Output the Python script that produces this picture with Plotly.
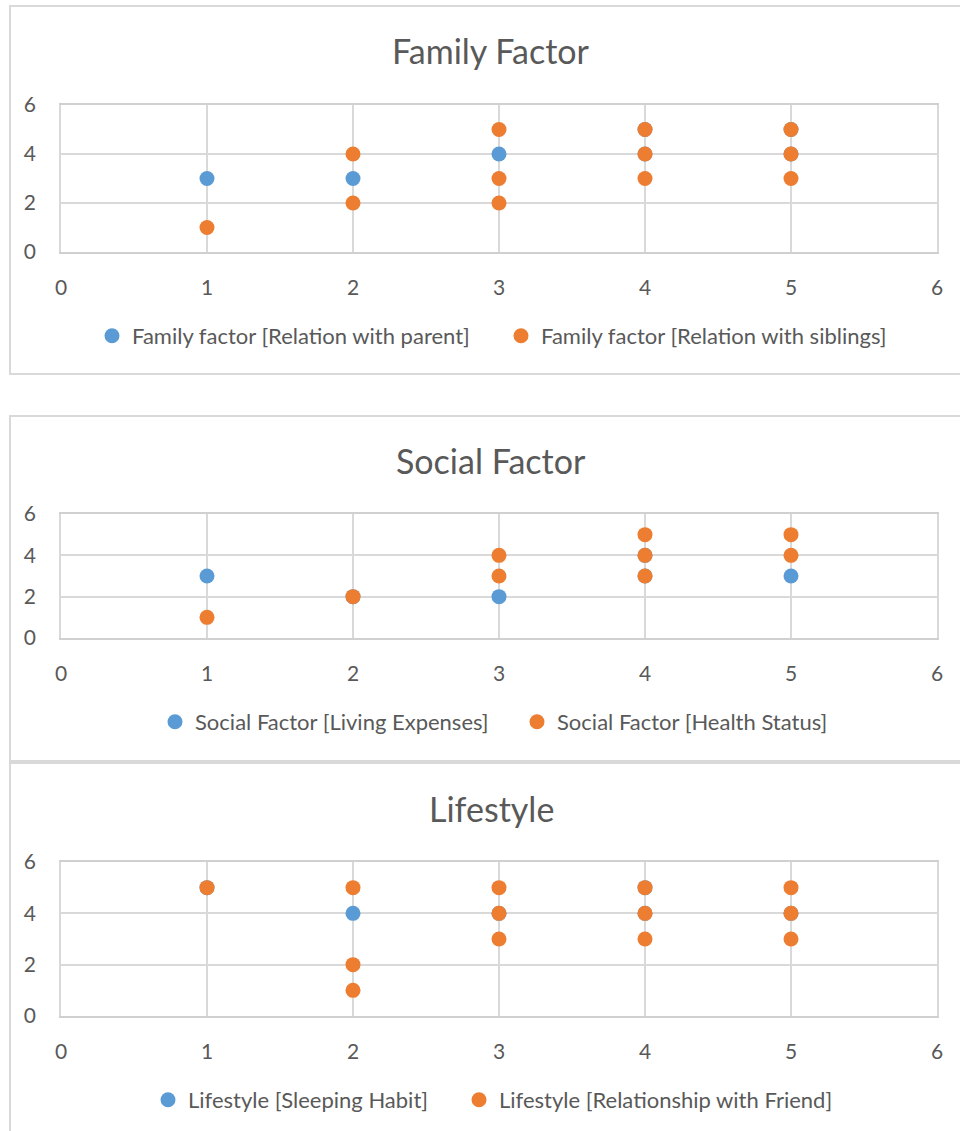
import plotly.graph_objects as go

W, H = 960, 1131
BLUE = "#5B9BD5"
ORANGE = "#ED7D31"
GRID = "#D9D9D9"
TEXT = "#595959"
FONT = "Lato"

titles = ["Family Factor", "Social Factor", "Lifestyle"]

# Family Factor
family_parent_x = [1, 2, 3, 4, 4, 5, 5]
family_parent_y = [3, 3, 4, 4, 5, 4, 5]
family_sibling_x = [1, 2, 2, 3, 3, 3, 4, 4, 4, 5, 5, 5]
family_sibling_y = [1, 4, 2, 5, 3, 2, 5, 4, 3, 5, 4, 3]

# Social Factor
social_living_x = [1, 2, 3, 4, 4, 5]
social_living_y = [3, 2, 2, 3, 4, 3]
social_health_x = [1, 2, 3, 3, 4, 4, 4, 5, 5]
social_health_y = [1, 2, 4, 3, 5, 4, 3, 5, 4]

# Lifestyle
life_sleep_x = [1, 2, 3, 4, 4, 5]
life_sleep_y = [5, 4, 4, 4, 5, 4]
life_friend_x = [1, 2, 2, 2, 3, 3, 3, 4, 4, 4, 5, 5, 5]
life_friend_y = [5, 5, 2, 1, 5, 4, 3, 5, 4, 3, 5, 4, 3]

series = [
    (("Family factor [Relation with parent]", family_parent_x, family_parent_y),
     ("Family factor [Relation with siblings]", family_sibling_x, family_sibling_y)),
    (("Social Factor [Living Expenses]", social_living_x, social_living_y),
     ("Social Factor [Health Status]", social_health_x, social_health_y)),
    (("Lifestyle [Sleeping Habit]", life_sleep_x, life_sleep_y),
     ("Lifestyle [Relationship with Friend]", life_friend_x, life_friend_y)),
]

# layout geometry in pixels
plot_left, plot_right = 61, 937
plot_tb = [(105, 252), (514, 638), (862, 1016)]
title_y = [50, 460, 808]
legend_y = [336, 722, 1100]
legend_dot_x = [(112, 521), (175, 537), (168, 479)]
boxes = [(6, 374), (416, 761), (763, 1140)]


def py(v):
    return 1 - v / H


fig = go.Figure()
layout = dict(
    width=W, height=H, margin=dict(l=0, r=0, t=0, b=0, autoexpand=False),
    paper_bgcolor="white", plot_bgcolor="white",
    font=dict(family=FONT, color=TEXT, size=21),
    showlegend=True,
)
annotations = []
shapes = []
legend_n = 0

for i, pair in enumerate(series):
    k = "" if i == 0 else str(i + 1)
    for j, (name, xs, ys) in enumerate(pair):
        legend_n += 1
        lg = "legend" if legend_n == 1 else "legend" + str(legend_n)
        fig.add_trace(go.Scatter(x=xs, y=ys, name=name, mode="markers",
                                 marker=dict(color=BLUE if j == 0 else ORANGE, size=15),
                                 xaxis="x" + k, yaxis="y" + k, legend=lg))
        layout[lg] = dict(
            orientation="h", x=(legend_dot_x[i][j] - 20) / W, xanchor="left",
            y=py(legend_y[i]), yanchor="middle", font=dict(size=22, color=TEXT),
            bgcolor="rgba(0,0,0,0)", itemclick=False, itemdoubleclick=False,
        )
    top, bot = plot_tb[i]
    layout["xaxis" + k] = dict(
        domain=[plot_left / W, plot_right / W], range=[0, 6], dtick=1, tick0=0,
        showgrid=True, gridcolor=GRID, gridwidth=1.5, zeroline=False,
        showline=True, linecolor="#D0D0D0", linewidth=1.8, mirror=True,
        anchor="y" + k, ticks="", ticklabelstandoff=16,
        tickfont=dict(size=21, color=TEXT), fixedrange=True,
    )
    layout["yaxis" + k] = dict(
        domain=[py(bot), py(top)], range=[0, 6], dtick=2, tick0=0,
        showgrid=True, gridcolor=GRID, gridwidth=1.5, zeroline=False,
        showline=True, linecolor=GRID, linewidth=1.5, mirror=True,
        anchor="x" + k, ticks="", ticklabelstandoff=19,
        tickfont=dict(size=21, color=TEXT), fixedrange=True,
    )
    annotations.append(dict(
        text=titles[i], xref="paper", yref="paper", x=491 / W, y=py(title_y[i]),
        xanchor="center", yanchor="middle", showarrow=False,
        font=dict(size=34, color=TEXT, family=FONT),
    ))
    b0, b1 = boxes[i]
    shapes.append(dict(type="rect", xref="paper", yref="paper",
                       x0=10 / W, x1=1.02, y0=py(b1), y1=py(b0),
                       line=dict(color=GRID, width=2), layer="below"))

layout["annotations"] = annotations
layout["shapes"] = shapes
fig.update_layout(**layout)
fig.write_html(
    "out.html",
    config={"displayModeBar": False},
    post_script="document.body.style.margin='0';document.body.style.overflow='hidden';",
)
